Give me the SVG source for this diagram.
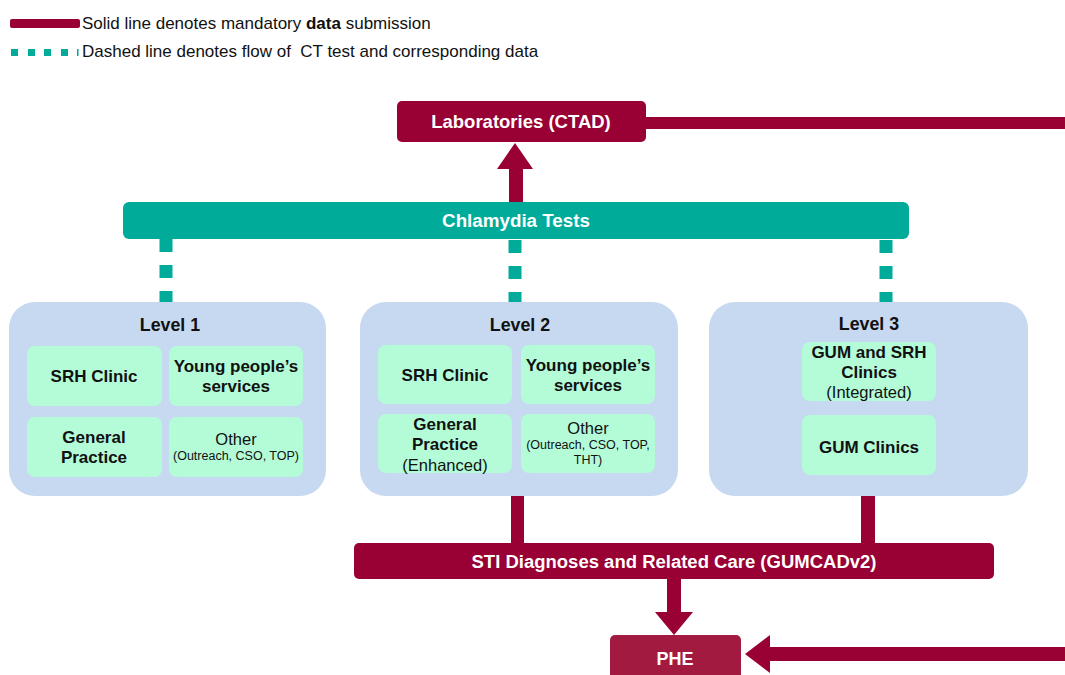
<svg xmlns="http://www.w3.org/2000/svg" width="1065" height="675" viewBox="0 0 1065 675">
<style>
text{font-family:"Liberation Sans",Arial,sans-serif;}
.leg{font-size:17px;fill:#111;}
.wt{fill:#fff;font-weight:bold;text-anchor:middle;}
.lvl{fill:#c7d9f0;}
.inner{fill:#b4fcd8;}
.lt{font-size:17.8px;font-weight:bold;text-anchor:middle;fill:#111;}
.bt{font-size:17px;font-weight:bold;text-anchor:middle;fill:#111;}
.rt{font-size:16.5px;text-anchor:middle;fill:#111;}
.st{font-size:12.5px;text-anchor:middle;fill:#111;}
.maroon{fill:#990033;}
.dash{stroke:#00ab9a;stroke-width:13;stroke-dasharray:13 13;fill:none;}
</style>
<g id="legend">
<rect x="10" y="19" width="70" height="9" rx="2" class="maroon"/>
<g fill="#00ab9a">
<rect x="11" y="49" width="7" height="7"/><rect x="28" y="49" width="7" height="7"/><rect x="44" y="49" width="7" height="7"/><rect x="61" y="49" width="7" height="7"/><rect x="77" y="49" width="1.5" height="7"/>
</g>
<text x="82" y="29" class="leg">Solid line denotes mandatory <tspan font-weight="bold">data</tspan> submission</text>
<text x="82" y="57" class="leg">Dashed line denotes flow of&#160; CT test and corresponding data</text>
</g>
<g id="connectors">
<rect x="646" y="117" width="419" height="12" class="maroon"/>
<rect x="509" y="166" width="14" height="37" class="maroon"/>
<polygon points="497,169 533,169 515,143" class="maroon"/>
<line x1="166" y1="239" x2="166" y2="302" class="dash"/>
<line x1="515" y1="240" x2="515" y2="302" class="dash"/>
<line x1="886" y1="240" x2="886" y2="302" class="dash"/>
<rect x="511" y="496" width="13" height="48" class="maroon"/>
<rect x="861" y="496" width="14" height="48" class="maroon"/>
<rect x="667" y="578" width="14" height="36" class="maroon"/>
<polygon points="655,612 693,612 674,635" class="maroon"/>
<rect x="768" y="647" width="297" height="14" class="maroon"/>
<polygon points="770,635 770,673 745,654" class="maroon"/>
</g>
<g id="lab">
<rect x="397" y="101" width="249" height="41" rx="5" class="maroon"/>
<text x="521" y="128" class="wt" font-size="18.5">Laboratories (CTAD)</text>
</g>
<g id="chlamydia">
<rect x="123" y="202" width="786" height="37" rx="6" fill="#00ab9a"/>
<text x="516" y="227" class="wt" font-size="18.8">Chlamydia Tests</text>
</g>
<g id="level1">
<rect x="9" y="302" width="317" height="194" rx="26" class="lvl"/>
<text x="170" y="331" class="lt">Level 1</text>
<rect x="27" y="346" width="135" height="60" rx="8" class="inner"/>
<text x="94" y="382" class="bt">SRH Clinic</text>
<rect x="169" y="346" width="134" height="60" rx="8" class="inner"/>
<text x="236" y="372" class="bt" font-size="17.8">Young people’s</text>
<text x="236" y="392" class="bt" font-size="17.8">services</text>
<rect x="27" y="417" width="135" height="60" rx="8" class="inner"/>
<text x="94" y="443" class="bt">General</text>
<text x="94" y="463" class="bt">Practice</text>
<rect x="169" y="417" width="134" height="60" rx="8" class="inner"/>
<text x="236" y="445" class="rt">Other</text>
<text x="236" y="460" class="st">(Outreach, CSO, TOP)</text>
</g>
<g id="level2">
<rect x="360" y="302" width="318" height="194" rx="26" class="lvl"/>
<text x="520" y="331" class="lt">Level 2</text>
<rect x="378" y="345" width="134" height="59" rx="8" class="inner"/>
<text x="445" y="381" class="bt">SRH Clinic</text>
<rect x="521" y="345" width="134" height="59" rx="8" class="inner"/>
<text x="588" y="371" class="bt" font-size="17.8">Young people’s</text>
<text x="588" y="391" class="bt" font-size="17.8">services</text>
<rect x="378" y="414" width="134" height="59" rx="8" class="inner"/>
<text x="445" y="430" class="bt">General</text>
<text x="445" y="450" class="bt">Practice</text>
<text x="445" y="471" class="rt">(Enhanced)</text>
<rect x="521" y="414" width="134" height="59" rx="8" class="inner"/>
<text x="588" y="434" class="rt">Other</text>
<text x="588" y="449" class="st">(Outreach, CSO, TOP,</text>
<text x="588" y="464" class="st">THT)</text>
</g>
<g id="level3">
<rect x="709" y="302" width="319" height="194" rx="26" class="lvl"/>
<text x="869" y="330" class="lt">Level 3</text>
<rect x="802" y="342" width="134" height="59" rx="8" class="inner"/>
<text x="869" y="358" class="bt">GUM and SRH</text>
<text x="869" y="378" class="bt">Clinics</text>
<text x="869" y="398" class="rt">(Integrated)</text>
<rect x="802" y="415" width="134" height="60" rx="8" class="inner"/>
<text x="869" y="453" class="bt">GUM Clinics</text>
</g>
<g id="sti">
<rect x="354" y="543" width="640" height="36" rx="5" class="maroon"/>
<text x="674" y="568" class="wt" font-size="17.5" textLength="405" lengthAdjust="spacingAndGlyphs">STI Diagnoses and Related Care (GUMCADv2)</text>
</g>
<g id="phe">
<rect x="610" y="635" width="131" height="50" rx="5" fill="#a31a40"/>
<text x="675" y="665" class="wt" font-size="18">PHE</text>
</g>
</svg>
